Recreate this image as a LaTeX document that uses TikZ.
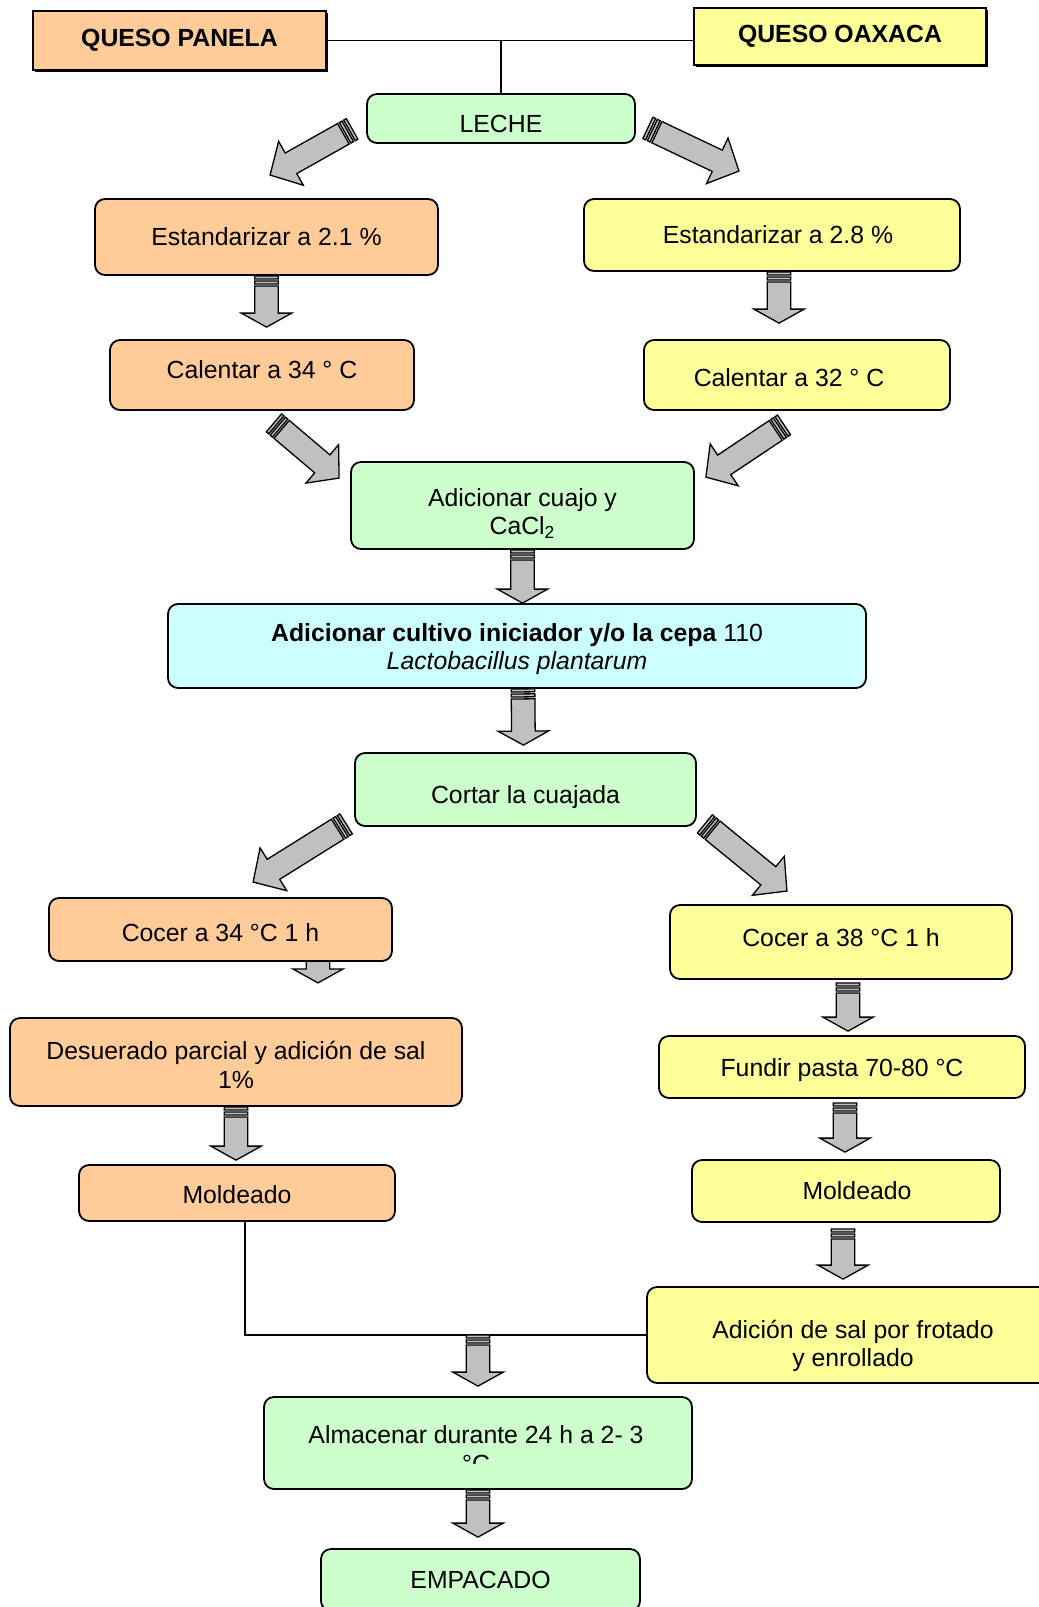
\documentclass[tikz,border=0pt]{standalone}
\usepackage{fontspec}
\setmainfont{Liberation Sans}
\usetikzlibrary{calc,positioning,shadows}
\definecolor{panelacol}{HTML}{FFCC99}
\definecolor{oaxacacol}{HTML}{FFFF99}
\definecolor{lechecol}{HTML}{CCFFCC}
\definecolor{cultivocol}{HTML}{CCFFFF}
\definecolor{flechacol}{HTML}{C0C0C0}
\pgfdeclarelayer{background}
\pgfsetlayers{background,main}
% block arrow with striped tail: [head length in pt]{tail}{tip}
\newcommand{\fatarrow}[3][7]{%
\draw[fat] let \p1=#2, \p2=#3,
 \n1={atan2(\y2-\y1,\x2-\x1)}, \n2={veclen(\x2-\x1,\y2-\y1)} in
 {[shift={(\p1)},rotate=\n1,x=1pt,y=1pt]
 (0,-5.9) rectangle (1.5,5.9)
 (2.5,-5.9) rectangle (4,5.9)
 (5,-5.9) -- ({\n2-#1},-5.9) -- ({\n2-#1},-12.6) -- (\n2,0)
 -- ({\n2-#1},12.6) -- ({\n2-#1},5.9) -- (5,5.9) -- cycle};
}
% move the text of a box down / up
\newcommand{\bajar}[1]{\rule{0pt}{\dimexpr 9.1pt+#1pt\relax}}
\newcommand{\subir}[1]{\rule[-#1pt]{0pt}{0pt}}

\begin{document}
\begin{tikzpicture}[x=0.5pt,y=-0.5pt]
\useasboundingbox (0,0) rectangle (1039,1607);
%styles
\tikzstyle{stepbox}=[draw,line width=0.9pt,rounded corners=5pt,align=center,inner sep=2pt,font=\fontsize{12.4}{14.3}\selectfont]
\tikzstyle{title}=[draw,line width=1pt,align=center,font=\fontsize{12.4}{14.3}\selectfont\bfseries,drop shadow={shadow xshift=0.8pt,shadow yshift=-0.8pt,fill=black,opacity=1}]
\tikzstyle{fat}=[draw=black,fill=flechacol,line width=0.65pt,line join=miter]
%%%%%%%%%%%%%%%%%%%%%%%%%%%%%%%%%%%%%%%%%%%%%%%%%%%%%%%%%%%%%%%%%%%%%%%%
%cheeses
\node[title,fill=panelacol,minimum width=146.5pt,minimum height=29.5pt] (panela) at (179.5,40.5) {QUESO PANELA\subir{2}};
\node[title,fill=oaxacacol,minimum width=146pt,minimum height=28.5pt] (oaxaca) at (840,36.5) {QUESO OAXACA};

%milk
\node[stepbox,fill=lechecol,minimum width=134pt,minimum height=24.5pt] (leche) at (501,118.5) {\bajar{5}LECHE};

%left column
\node[stepbox,fill=panelacol,minimum width=171.5pt,minimum height=38pt] (estA) at (266.5,237) {Estandarizar a 2.1 \%};
\node[stepbox,fill=panelacol,minimum width=152pt,minimum height=35pt] (calA) at (262,375) {Calentar a 34 ° C\subir{5}};
%right column
\node[stepbox,fill=oaxacacol,minimum width=188pt,minimum height=36pt] (estB) at (772,235) {\hspace*{6pt}Estandarizar a 2.8 \%};
\node[stepbox,fill=oaxacacol,minimum width=153pt,minimum height=35pt] (calB) at (797,375) {\bajar{3}Calentar a 32 ° C\hspace*{8pt}};

%common
\node[stepbox,fill=lechecol,minimum width=171.5pt,minimum height=43.5pt] (cuajo) at (522.5,505.5) {\bajar{8}Adicionar cuajo y\\CaCl\textsubscript{2}};
\node[stepbox,fill=cultivocol,minimum width=349pt,minimum height=42pt] (cultivo) at (517,646) {\bajar{3}\textbf{Adicionar cultivo iniciador y/o la cepa} 110\\\textit{Lactobacillus plantarum}};
\node[stepbox,fill=lechecol,minimum width=170.5pt,minimum height=36.5pt] (cortar) at (525.5,789.5) {\bajar{7}Cortar la cuajada};

%panela
\node[stepbox,fill=panelacol,minimum width=171.5pt,minimum height=31.5pt] (cocerA) at (220.5,929.5) {\bajar{3}Cocer a 34 °C 1 h};
\node[stepbox,fill=panelacol,minimum width=226pt,minimum height=44pt] (desuerado) at (236,1062) {\bajar{3}Desuerado parcial y adición de sal\\1\%};
\node[stepbox,fill=panelacol,minimum width=158pt,minimum height=28pt] (moldA) at (237,1193) {\bajar{2}Moldeado};

%oaxaca
\node[stepbox,fill=oaxacacol,minimum width=171pt,minimum height=37pt] (cocerB) at (841,942) {Cocer a 38 °C 1 h\subir{5}};
\node[stepbox,fill=oaxacacol,minimum width=183pt,minimum height=31pt] (fundir) at (842,1067) {\bajar{3}Fundir pasta 70-80 °C};
\node[stepbox,fill=oaxacacol,minimum width=154pt,minimum height=31pt] (moldB) at (846,1191) {\hspace*{11pt}Moldeado};
\node[stepbox,fill=oaxacacol,minimum width=206pt,minimum height=48pt] (sal) at (853,1335) {\bajar{11}Adición de sal por frotado\\y enrollado};

%end
\node[stepbox,fill=lechecol,minimum width=214pt,minimum height=46pt] (almacenar) at (478,1443) {};
\begin{scope}
\clip (almacenar.north west) rectangle ($(almacenar.east)+(0,20)$);
\node[align=center,font=\fontsize{12.4}{14.3}\selectfont] (almtexto) at ($(almacenar)+(-2,6)$) {Almacenar durante 24 h a 2- 3\\°C};
\end{scope}
\node[stepbox,fill=lechecol,minimum width=159.5pt,minimum height=31pt] (empacado) at (480.5,1580) {EMPACADO};

%lines
\draw[line width=0.8pt] (panela.east) -- (panela.east -| oaxaca.west);
\draw[line width=0.8pt] (leche.north) -- (leche.north |- panela.east);
\draw[line width=0.8pt] ($(moldA.south)+(8,0)$) |- (sal.west);

%block arrows
\fatarrow[12]{($(leche.south west)+(-14,-15)$)}{($(estA.north)+(3.5,-23)$)}
\fatarrow[12]{($(leche.south east)+(12,-16)$)}{($(estB.north)+(-33,-27)$)}
\fatarrow{(estA.south)}{($(estA.south |- calA.north)+(0,-12)$)}
\fatarrow{($(estB.south)+(7,0)$)}{($(calB.north)+(-18,-16)$)}
\fatarrow[11]{($(calA.south)+(12,12)$)}{($(cuajo.north west)+(-11,17)$)}
\fatarrow[11]{($(calB.south)+(-13,14)$)}{($(cuajo.north east)+(11,16)$)}
\fatarrow{(cuajo.south)}{(cuajo.south |- cultivo.north)}
\fatarrow{($(cultivo.south)+(6,0)$)}{($(cortar.north)+(-2,-7)$)}
\fatarrow[12]{($(cortar.south west)+(-8,-3)$)}{($(cocerA.north)+(32.5,-15)$)}
\fatarrow[12]{($(cortar.south east)+(8,-3)$)}{($(cocerB.north)+(-54,-13)$)}
\begin{pgfonlayer}{background}
\fatarrow{($(cocerA.south)+(97.5,-20)$)}{($(cocerA.south)+(97.5,21)$)}
\end{pgfonlayer}
\fatarrow{(desuerado.south)}{($(desuerado.south |- moldA.north)+(0,-4)$)}
\fatarrow{($(cocerB.south)+(7,3)$)}{($(fundir.north)+(6,-4)$)}
\fatarrow{($(fundir.south)+(3,4)$)}{($(moldB.north)+(-1,-7)$)}
\fatarrow{($(moldB.south)+(-3,6)$)}{($(sal.north)+(-10,-7)$)}
\fatarrow{(almacenar.north |- sal.west)}{($(almacenar.north)+(0,-10)$)}
\fatarrow{(almacenar.south)}{($(almacenar.south |- empacado.north)+(0,-11)$)}

\end{tikzpicture}
\end{document}
